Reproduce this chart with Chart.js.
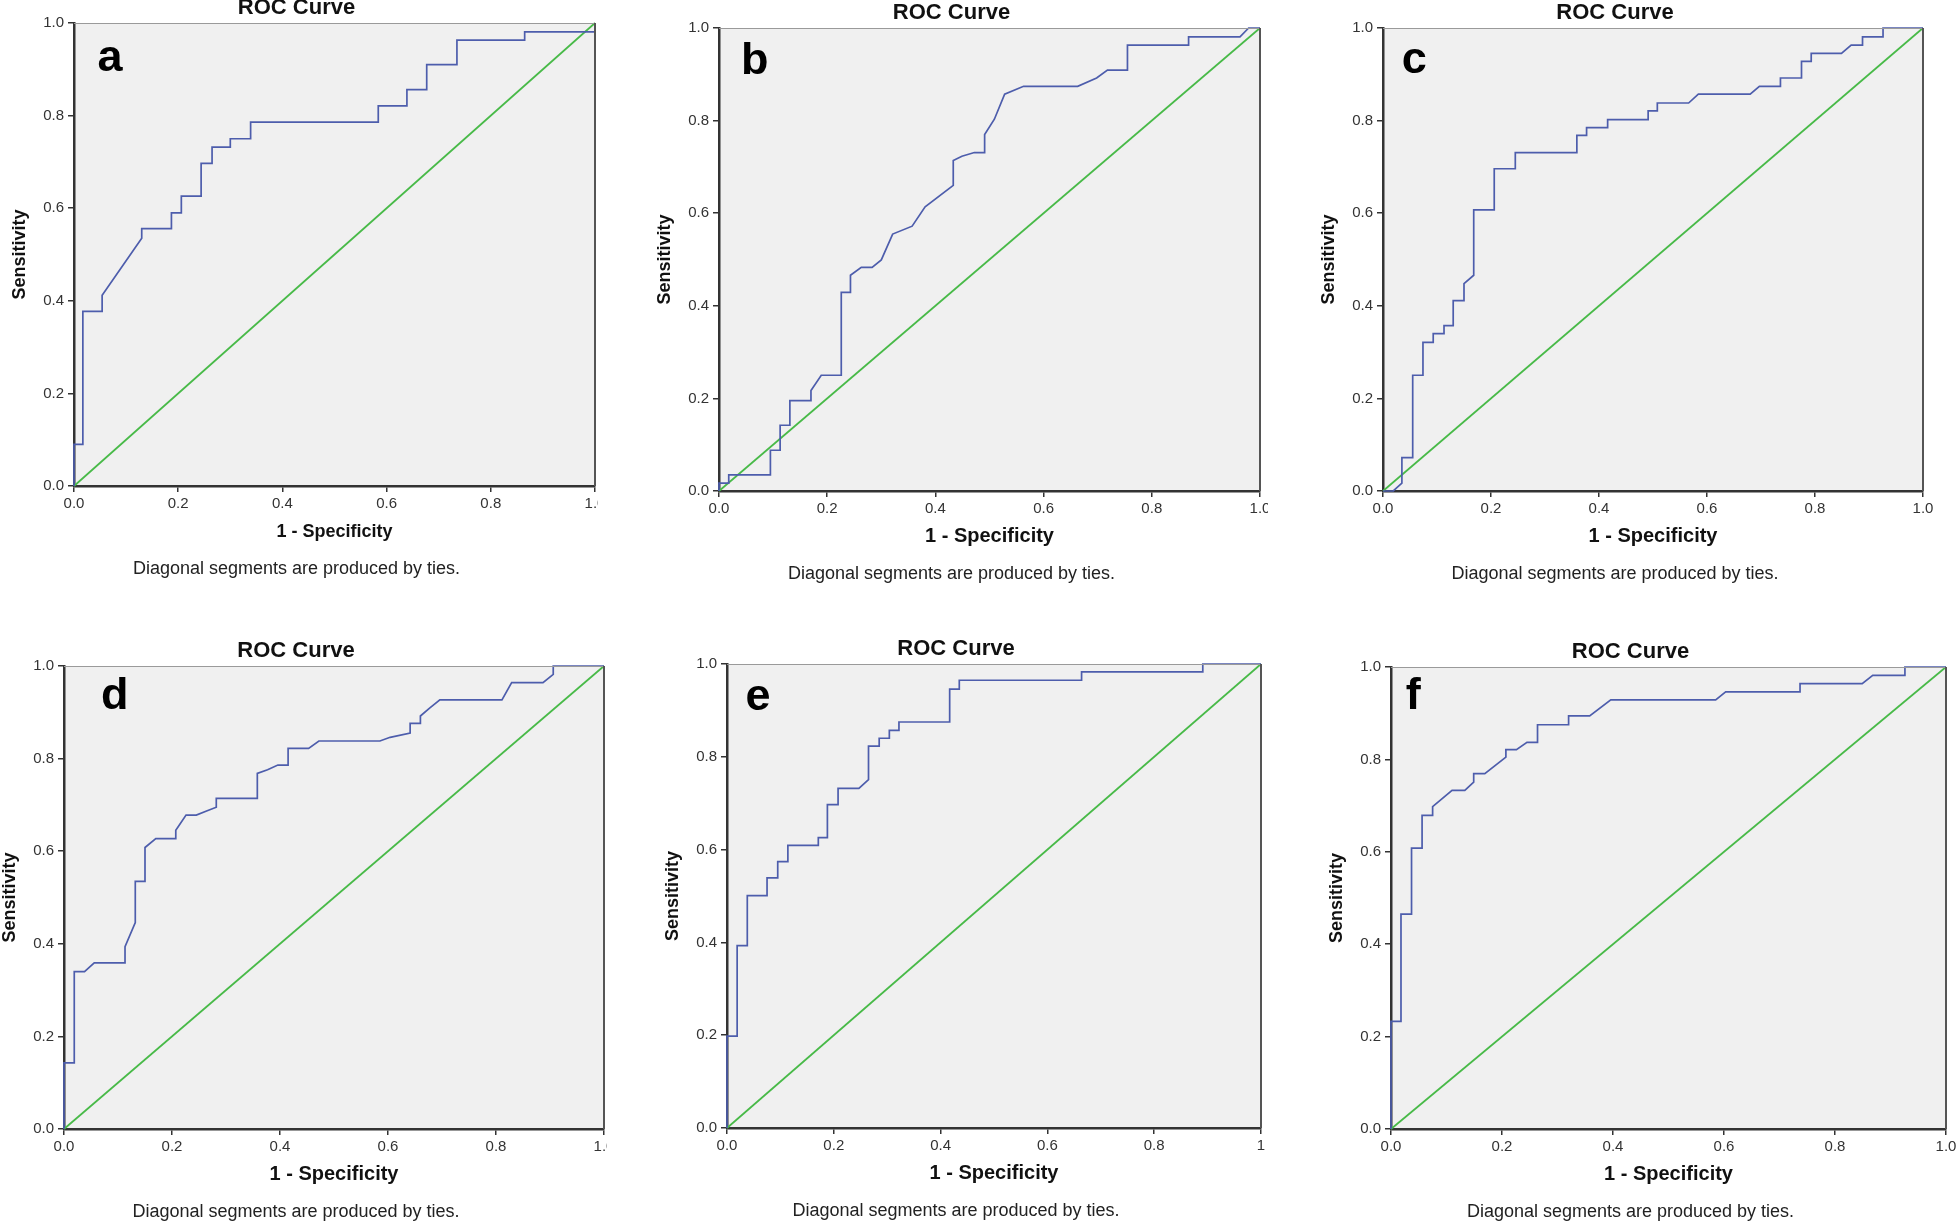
<!DOCTYPE html>
<html><head><meta charset="utf-8">
<script src="https://cdn.jsdelivr.net/npm/chart.js@4.4.1/dist/chart.umd.min.js"></script>
<style>
html,body{margin:0;padding:0;background:#fff;width:1960px;height:1223px;overflow:hidden;position:relative;}
.w{position:absolute;overflow:hidden;}
canvas{position:absolute;left:0;top:0;}
</style></head><body>
<script>
// ---------- DATA ----------
const panelLetters = ['a','b','c','d','e','f'];
const axisTicks = [0, 0.2, 0.4, 0.6, 0.8, 1.0];
const yTickLabels = ['0.0','0.2','0.4','0.6','0.8','1.0'];
const xTickLabels = ['0.0','0.2','0.4','0.6','0.8','1.0'];
const xTickLabelsE = ['0.0','0.2','0.4','0.6','0.8','1'];
const diagX = [0, 1];
const diagY = [0, 1];

const aFpr = [0,0,0.017,0.017,0.054,0.054,0.130,0.130,0.187,0.187,0.206,0.206,0.244,0.244,0.265,0.265,0.300,0.300,0.339,0.339,0.584,0.584,0.639,0.639,0.677,0.677,0.735,0.735,0.865,0.865,1,1];
const aTpr = [0,0.090,0.090,0.377,0.377,0.412,0.535,0.556,0.556,0.590,0.590,0.626,0.626,0.697,0.697,0.732,0.732,0.750,0.750,0.786,0.786,0.821,0.821,0.856,0.856,0.910,0.910,0.963,0.963,0.981,0.981,1];

const bFpr = [0,0,0.018,0.018,0.095,0.095,0.113,0.113,0.131,0.131,0.170,0.170,0.189,0.226,0.226,0.243,0.243,0.263,0.283,0.300,0.321,0.357,0.381,0.433,0.433,0.449,0.472,0.491,0.491,0.509,0.528,0.563,0.663,0.698,0.718,0.755,0.755,0.868,0.868,0.963,0.979,1];
const bTpr = [0,0.017,0.017,0.035,0.035,0.088,0.088,0.142,0.142,0.195,0.195,0.217,0.250,0.250,0.429,0.429,0.466,0.483,0.483,0.499,0.555,0.572,0.614,0.660,0.714,0.723,0.731,0.731,0.770,0.803,0.857,0.874,0.874,0.892,0.909,0.909,0.963,0.963,0.981,0.981,1,1];

const cFpr = [0,0.019,0.035,0.035,0.055,0.055,0.074,0.074,0.093,0.093,0.113,0.113,0.130,0.130,0.150,0.150,0.168,0.168,0.206,0.206,0.245,0.245,0.359,0.359,0.377,0.377,0.416,0.416,0.491,0.491,0.508,0.508,0.566,0.584,0.680,0.697,0.736,0.736,0.775,0.775,0.793,0.793,0.849,0.867,0.888,0.888,0.926,0.926,1];
const cTpr = [0,0,0.017,0.072,0.072,0.250,0.250,0.321,0.321,0.340,0.340,0.357,0.357,0.411,0.411,0.448,0.466,0.607,0.607,0.696,0.696,0.731,0.731,0.768,0.768,0.785,0.785,0.802,0.802,0.821,0.821,0.838,0.838,0.857,0.857,0.874,0.874,0.892,0.892,0.928,0.928,0.945,0.945,0.963,0.963,0.981,0.981,1,1];

const dFpr = [0,0,0.019,0.019,0.038,0.056,0.113,0.113,0.132,0.132,0.150,0.150,0.170,0.207,0.207,0.226,0.245,0.264,0.282,0.282,0.358,0.358,0.377,0.396,0.415,0.415,0.453,0.472,0.585,0.604,0.641,0.641,0.660,0.660,0.677,0.696,0.811,0.829,0.887,0.906,0.906,1];
const dTpr = [0,0.143,0.143,0.340,0.340,0.359,0.359,0.394,0.446,0.535,0.535,0.608,0.627,0.627,0.645,0.678,0.678,0.687,0.695,0.714,0.714,0.768,0.776,0.786,0.786,0.822,0.822,0.838,0.838,0.846,0.855,0.876,0.876,0.892,0.909,0.927,0.927,0.964,0.964,0.982,1,1];

const eFpr = [0,0,0.019,0.019,0.038,0.038,0.075,0.075,0.095,0.095,0.114,0.114,0.171,0.171,0.188,0.188,0.208,0.208,0.247,0.265,0.265,0.285,0.285,0.304,0.304,0.322,0.322,0.417,0.417,0.435,0.435,0.664,0.664,0.891,0.891,1];
const eTpr = [0,0.198,0.198,0.393,0.393,0.501,0.501,0.539,0.539,0.574,0.574,0.609,0.609,0.626,0.626,0.697,0.697,0.732,0.732,0.751,0.823,0.823,0.840,0.840,0.857,0.857,0.875,0.875,0.946,0.946,0.965,0.965,0.983,0.983,1,1];

const fFpr = [0,0,0.018,0.018,0.037,0.037,0.056,0.056,0.075,0.075,0.110,0.133,0.149,0.149,0.169,0.207,0.207,0.226,0.245,0.264,0.264,0.320,0.320,0.358,0.396,0.585,0.603,0.737,0.737,0.849,0.868,0.926,0.926,1];
const fTpr = [0,0.233,0.233,0.465,0.465,0.608,0.608,0.679,0.679,0.698,0.733,0.733,0.751,0.769,0.769,0.805,0.821,0.821,0.837,0.837,0.875,0.875,0.894,0.894,0.929,0.929,0.946,0.946,0.964,0.964,0.982,0.982,1,1];

const seriesFpr = [aFpr, bFpr, cFpr, dFpr, eFpr, fFpr];
const seriesTpr = [aTpr, bTpr, cTpr, dTpr, eTpr, fTpr];
const seriesXTicks = [xTickLabels, xTickLabels, xTickLabels, xTickLabels, xTickLabelsE, xTickLabels];

// ---------- LAYOUT ----------
const boxes = [
  {L:74,  T:23,  R:595,  B:486,  clip:3,    lx:0.069, ly:0.077, xts:18},
  {L:719, T:28,  R:1260, B:491,  clip:8,    lx:0.066, ly:0.064, xts:20},
  {L:1383,T:28,  R:1923, B:491,  clip:null, lx:0.058, ly:0.071, xts:20},
  {L:64,  T:666, R:604,  B:1129, clip:3,    lx:0.094, ly:0.059, xts:20},
  {L:727, T:664, R:1261, B:1128, clip:null, lx:0.058, ly:0.074, xts:20},
  {L:1391,T:667, R:1946, B:1129, clip:null, lx:0.040, ly:0.057, xts:20}
];
const FONT = '"Liberation Sans", Arial, Helvetica, sans-serif';
const PADL = 85, PADT = 42, PADR = 30, XAH = 72, FOOT = 36;

const decor = {
  id: 'decor',
  beforeDraw(chart) {
    const {ctx, chartArea: a} = chart;
    ctx.save();
    ctx.fillStyle = '#F0F0F0';
    ctx.fillRect(a.left, a.top, a.right - a.left, a.bottom - a.top);
    ctx.restore();
  },
  afterDraw(chart, args, o) {
    const {ctx, chartArea: a} = chart;
    const cx = (a.left + a.right) / 2 - 38;
    ctx.save();
    // top & right frame
    ctx.strokeStyle = '#9A9A9A'; ctx.lineWidth = 1.2;
    ctx.beginPath(); ctx.moveTo(a.left, a.top + 0.5); ctx.lineTo(a.right, a.top + 0.5); ctx.stroke();
    ctx.strokeStyle = '#555'; ctx.lineWidth = 2;
    ctx.beginPath(); ctx.moveTo(a.right, a.top); ctx.lineTo(a.right, a.bottom); ctx.stroke();
    // title
    ctx.fillStyle = '#111';
    ctx.textAlign = 'center'; ctx.textBaseline = 'middle';
    ctx.font = 'bold 22px ' + FONT;
    ctx.fillText('ROC Curve', cx, a.top - 15);
    // footnote
    ctx.font = '18px ' + FONT;
    ctx.fillStyle = '#222';
    ctx.fillText('Diagonal segments are produced by ties.', cx, a.bottom + 83);
    // panel letter
    ctx.font = 'bold 45px ' + FONT;
    ctx.fillStyle = '#000';
    ctx.textBaseline = 'alphabetic';
    const m = ctx.measureText(o.letter);
    const lx = a.left + o.lx * (a.right - a.left);
    const ly = a.top + o.ly * (a.bottom - a.top);
    ctx.fillText(o.letter, lx, ly + (m.actualBoundingBoxAscent - m.actualBoundingBoxDescent) / 2);
    ctx.restore();
  }
};

function build(i) {
  const p = boxes[i];
  const pw = p.R - p.L, ph = p.B - p.T;
  const cw = pw + PADL + PADR, ch = ph + PADT + XAH + FOOT;
  const wrap = document.createElement('div');
  wrap.className = 'w';
  wrap.style.left = (p.L - PADL) + 'px';
  wrap.style.top = (p.T - PADT) + 'px';
  wrap.style.width = (p.clip !== null ? (PADL + pw + p.clip) : cw) + 'px';
  wrap.style.height = ch + 'px';
  const cv = document.createElement('canvas');
  cv.width = cw; cv.height = ch;
  cv.style.width = cw + 'px'; cv.style.height = ch + 'px';
  wrap.appendChild(cv);
  document.body.appendChild(wrap);
  const fpr = seriesFpr[i], tpr = seriesTpr[i], xl = seriesXTicks[i];
  new Chart(cv, {
    type: 'scatter',
    data: {
      datasets: [
        {data: fpr.map((x, k) => ({x: x, y: tpr[k]})), showLine: true, borderColor: '#4D5DAC', borderWidth: 1.7, pointRadius: 0, tension: 0, fill: false, clip: 4},
        {data: diagX.map((x, k) => ({x: x, y: diagY[k]})), showLine: true, borderColor: '#48BA48', borderWidth: 1.7, pointRadius: 0, tension: 0, fill: false, clip: 4}
      ]
    },
    options: {
      responsive: false, animation: false, maintainAspectRatio: false,
      layout: {padding: {left: 0, top: PADT, right: PADR, bottom: FOOT}},
      plugins: {legend: {display: false}, tooltip: {enabled: false},
        decor: {letter: panelLetters[i], lx: p.lx, ly: p.ly}},
      scales: {
        x: {
          type: 'linear', min: 0, max: 1,
          afterBuildTicks: (s) => { s.ticks = axisTicks.map(v => ({value: v})); },
          ticks: {callback: (v, k) => xl[k], font: {family: FONT, size: 15}, color: '#333', padding: 3, maxRotation: 0, autoSkip: false},
          grid: {drawOnChartArea: false, drawTicks: true, tickLength: 6, color: '#333', lineWidth: 1.5},
          border: {display: true, color: '#333', width: 2.5},
          title: {display: true, text: '1 - Specificity', font: {family: FONT, size: p.xts, weight: 'bold'}, color: '#111', padding: {top: 0, bottom: XAH - 45 - 12}},
          afterFit: (s) => { s.height = XAH; }
        },
        y: {
          type: 'linear', min: 0, max: 1,
          afterBuildTicks: (s) => { s.ticks = axisTicks.map(v => ({value: v})); },
          ticks: {callback: (v, k) => yTickLabels[k], font: {family: FONT, size: 15}, color: '#333', padding: 4, autoSkip: false},
          grid: {drawOnChartArea: false, drawTicks: true, tickLength: 6, color: '#333', lineWidth: 1.5},
          border: {display: true, color: '#333', width: 2.5},
          title: {display: true, text: 'Sensitivity', font: {family: FONT, size: 18, weight: 'bold'}, color: '#111', padding: {top: 20, bottom: 0}},
          afterFit: (s) => { s.width = PADL; }
        }
      }
    },
    plugins: [decor]
  });
}
for (let i = 0; i < 6; i++) build(i);
</script>
</body></html>
